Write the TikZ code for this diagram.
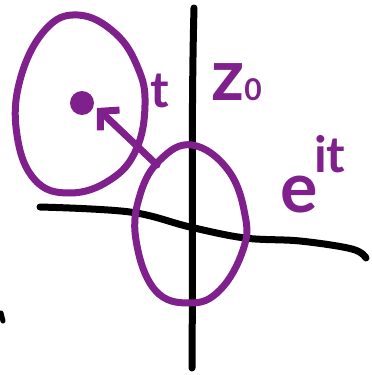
\documentclass[tikz,border=0pt]{standalone}
\usepackage{fontspec}
\setmainfont{Lato}
\usetikzlibrary{arrows.meta}
\definecolor{penpurple}{RGB}{128,32,140}

\begin{document}
\begin{tikzpicture}[
    x=1pt,
    y=-1pt,
    axis/.style={draw=black, line width=7pt, line cap=round, line join=round},
    ink/.style={draw=penpurple, line width=7pt, line cap=round, line join=round},
    scribble/.style={text=penpurple, inner sep=0pt},
    blob/.style={ellipse, fill=penpurple, inner sep=0pt, minimum width=22pt, minimum height=28pt}
]
    \useasboundingbox (0,0) rectangle (372,375);

    \coordinate (ytop) at (194,8);
    \coordinate (ybot) at (192,368);
    \coordinate (tail) at (157,165);
    \coordinate (tip) at (97,108);

    % axes
    \draw[axis] (ytop) .. controls (191,120) and (193,250) .. (ybot);
    \draw[axis] plot[smooth, tension=0.6] coordinates {
        (40,207) (130,212) (190,227) (245,238) (300,241) (352,249) (366,258)};
    \draw[axis, line width=5pt] (1,313) -- (3,321);

    % the two loops
    \draw[ink] plot[smooth cycle, tension=0.7] coordinates {
        (78,15) (115,33) (138,68) (145,105) (136,150) (110,180)
        (70,193) (35,180) (17,135) (20,80) (45,30)};
    \draw[ink] plot[smooth cycle, tension=0.7] coordinates {
        (192,145) (228,170) (245,215) (243,250) (220,290) (190,303)
        (155,290) (136,240) (140,195) (160,160)};

    \node[circle, fill=penpurple, inner sep=0pt, minimum size=24pt] (centre) at (82,103) {};
    \draw[ink, -{Straight Barb[length=13pt, width=28pt]}] (tail) -- (tip);

    \node[scribble, anchor=base, font=\bfseries\fontsize{50}{50}\selectfont] (tlabel) at (160,107) {t};
    \node[scribble, anchor=base west, font=\bfseries\fontsize{72}{72}\selectfont] (zlabel) at (211,100)
        {z{\fontsize{30}{30}\selectfont 0}};
    \node[scribble, anchor=base west, font=\bfseries\fontsize{70}{70}\selectfont] (elabel) at (280,212) {e};
    \node[scribble, anchor=base west, font=\bfseries\fontsize{50}{50}\selectfont] (itlabel) at (314,172) {it};

\end{tikzpicture}
\end{document}
